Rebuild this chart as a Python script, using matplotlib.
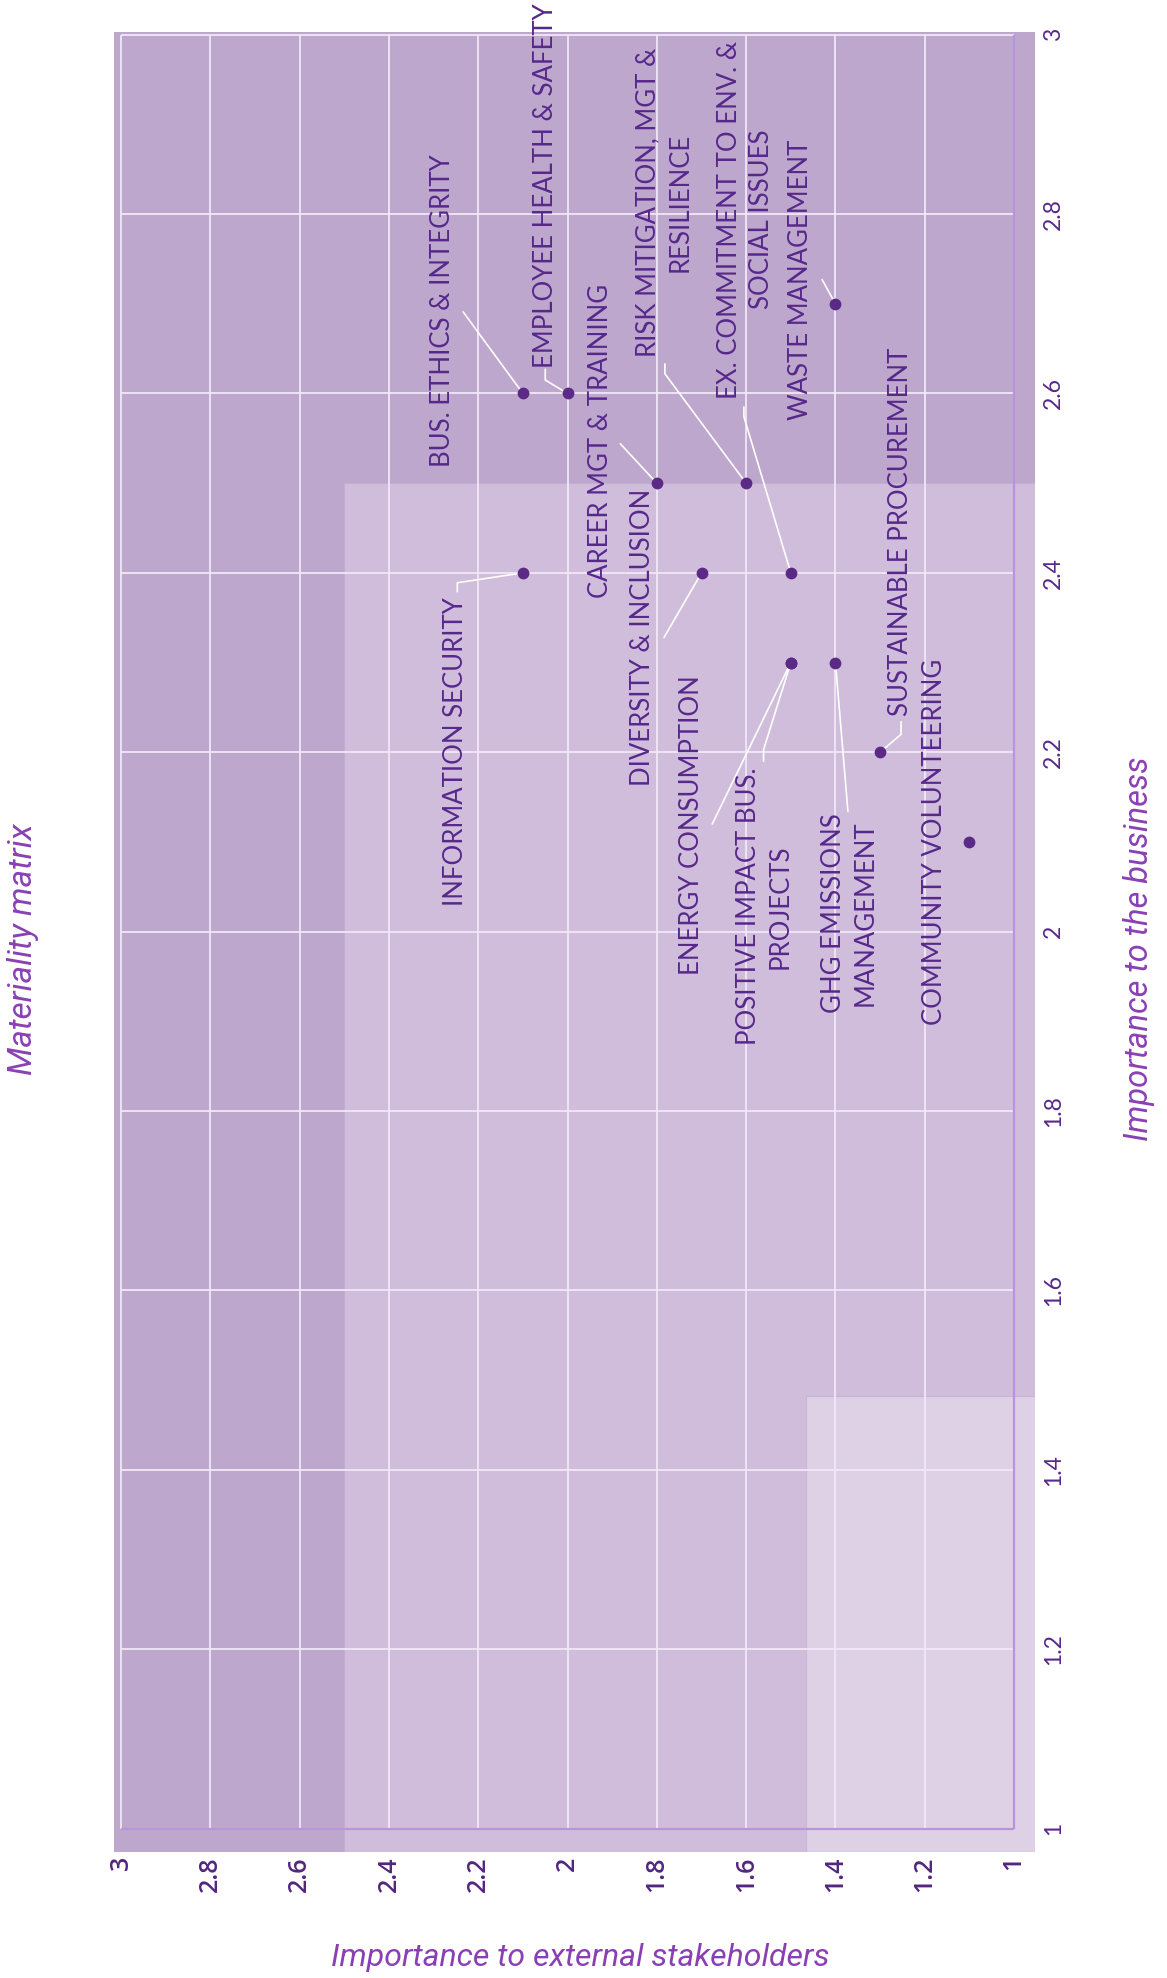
import matplotlib
matplotlib.use("Agg")
import matplotlib.pyplot as plt
from matplotlib.patches import Rectangle

# ---------------- data ----------------
topics = [
    "BUS. ETHICS & INTEGRITY",
    "EMPLOYEE HEALTH & SAFETY",
    "CAREER MGT & TRAINING",
    "RISK MITIGATION, MGT &\nRESILIENCE",
    "EX. COMMITMENT TO ENV. &\nSOCIAL ISSUES",
    "WASTE MANAGEMENT",
    "INFORMATION SECURITY",
    "DIVERSITY & INCLUSION",
    "ENERGY CONSUMPTION",
    "POSITIVE IMPACT BUS.\nPROJECTS",
    "GHG EMISSIONS\nMANAGEMENT",
    "SUSTAINABLE PROCUREMENT",
    "COMMUNITY VOLUNTEERING",
]
business = [2.6, 2.6, 2.5, 2.5, 2.4, 2.7, 2.4, 2.4, 2.3, 2.3, 2.3, 2.2, 2.1]
stakeholders = [2.1, 2.0, 1.8, 1.6, 1.5, 1.4, 2.1, 1.7, 1.5, 1.5, 1.4, 1.3, 1.1]

tick_values = [1, 1.2, 1.4, 1.6, 1.8, 2, 2.2, 2.4, 2.6, 2.8, 3]
tick_labels = ["1", "1.2", "1.4", "1.6", "1.8", "2", "2.2", "2.4", "2.6", "2.8", "3"]

# label placement (stakeholders, business) and leader waypoints
label_pos = [
    (2.281, 2.692), (2.050, 2.832), (1.927, 2.547), (1.784, 2.813),
    (1.602, 2.794), (1.479, 2.727), (2.250, 2.201), (1.833, 2.328),
    (1.722, 2.119), (1.560, 2.028), (1.368, 2.021), (1.255, 2.446),
    (1.178, 2.100),
]
leaders = [
    [(2.234, 2.691)],
    [(2.050, 2.627), (2.050, 2.615)],
    [(1.882, 2.544)],
    [(1.782, 2.633), (1.782, 2.622)],
    [(1.605, 2.585), (1.605, 2.574)],
    [(1.430, 2.727)],
    [(2.247, 2.379), (2.247, 2.389)],
    [(1.784, 2.328)],
    [(1.676, 2.120)],
    [(1.561, 2.190), (1.561, 2.203)],
    [(1.372, 2.134)],
    [(1.253, 2.234), (1.253, 2.220)],
    [],
]

# ---------------- style ----------------
c_dark = "#bea7cc"
c_mid = "#d0bddb"
c_light = "#ded1e6"
c_grid = "#f2e8f8"
c_frame = "#b794dc"
c_point = "#5b2a86"
c_text = "#57288b"
c_tick = "#52257f"
c_title = "#8a40b4"

fig = plt.figure(figsize=(11.67, 19.78), dpi=100)
ax = fig.add_axes([114 / 1167, 1 - 1852 / 1978, (1035 - 114) / 1167, (1852 - 32) / 1978])
x0, x1 = 3.016, 0.953
y0, y1 = 0.974, 3.003
ax.set_xlim(x0, x1)
ax.set_ylim(y0, y1)
ax.set_facecolor(c_dark)
for sp in ax.spines.values():
    sp.set_visible(False)

ax.add_patch(Rectangle((x1, y0), 2.5 - x1, 2.5 - y0, facecolor=c_mid,
                       edgecolor="#c3aed2", lw=0.8, zorder=1))
ax.add_patch(Rectangle((x1, y0), 1.467 - x1, 1.482 - y0, facecolor=c_light,
                       edgecolor="#c8b4d5", lw=0.8, zorder=1.2))

ax.vlines(tick_values, 1, 3, colors=c_grid, lw=1.3, zorder=2)
ax.hlines(tick_values, 1, 3, colors=c_grid, lw=1.3, zorder=2)
ax.plot([1, 1], [1, 3], color=c_frame, lw=1.6, zorder=3, solid_capstyle="butt")
ax.plot([3, 1], [1, 1], color=c_frame, lw=1.6, zorder=3, solid_capstyle="butt")

ax.set_xticks(tick_values)
ax.set_xticklabels(tick_labels)
ax.set_yticks(tick_values)
ax.set_yticklabels(tick_labels)
ax.yaxis.tick_right()
ax.tick_params(axis="x", length=0, pad=3, labelrotation=90, labelsize=18,
               labelcolor=c_tick)
ax.tick_params(axis="y", length=0, pad=6, labelrotation=90, labelsize=16.5,
               labelcolor=c_text)
for t in ax.get_xticklabels():
    t.set_family("Open Sans")
    t.set_weight("semibold")
    t.set_va("top")
    t.set_ha("center")
for t in ax.get_yticklabels():
    t.set_family("Lato")
    t.set_va("center")
    t.set_ha("left")

# leaders
for (s, b), pts in zip(zip(stakeholders, business), leaders):
    if not pts:
        continue
    xs = [p[0] for p in pts] + [s]
    ys = [p[1] for p in pts] + [b]
    ax.plot(xs, ys, color="white", lw=1.2, zorder=4, solid_capstyle="round")

ax.scatter(stakeholders, business, s=72, color=c_point, zorder=5, linewidths=0)

for name, (tx, ty) in zip(topics, label_pos):
    ax.text(tx, ty, name, rotation=90, ha="center", va="center",
            multialignment="center", linespacing=1.33, fontsize=18.5,
            family="Lato", color=c_text, zorder=6, clip_on=False)

fig.text(23 / 1167, 1 - 949 / 1978, "Materiality matrix", rotation=90,
         ha="center", va="center", fontsize=24, style="italic", weight="normal",
         family="Roboto", color=c_title)
fig.text(1139 / 1167, 1 - 949 / 1978, "Importance to the business", rotation=90,
         ha="center", va="center", fontsize=23.5, style="italic", weight="normal",
         family="Roboto", color=c_title)
fig.text(580 / 1167, 1 - 1958 / 1978, "Importance to external stakeholders",
         ha="center", va="center", fontsize=23, style="italic", weight="normal",
         family="Roboto", color=c_title)

fig.savefig("out.png", dpi=100, facecolor="white")
